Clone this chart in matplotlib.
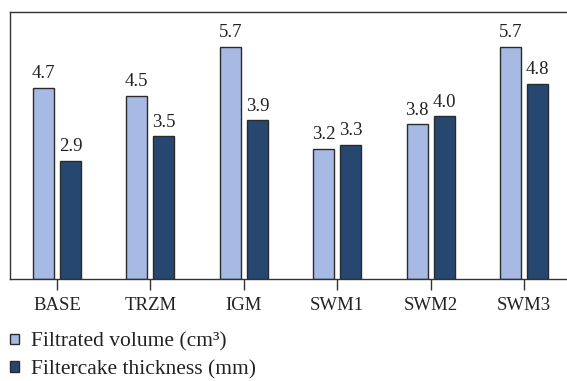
import numpy as np
import matplotlib
matplotlib.use("Agg")
import matplotlib.pyplot as plt

categories = ["BASE", "TRZM", "IGM", "SWM1", "SWM2", "SWM3"]
filtrated_volume = [4.7, 4.5, 5.7, 3.2, 3.8, 5.7]
filtercake_thickness = [2.9, 3.5, 3.9, 3.3, 4.0, 4.8]
series_labels = ["Filtrated volume (cm³)", "Filtercake thickness (mm)"]

light = "#a7bae3"
dark = "#26476f"
edge = "#2b2b2b"

plt.rcParams["font.family"] = ["Liberation Serif", "DejaVu Serif"]
plt.rcParams["font.size"] = 13.5

fig = plt.figure(figsize=(5.67, 3.81), dpi=100)
ax = fig.add_axes([0.0176, 0.268, 0.9824, 0.7005])

x = np.arange(len(categories))
w = 0.225
b1 = ax.bar(x - 0.145, filtrated_volume, w, color=light, edgecolor=edge, linewidth=1.0,
            label=series_labels[0])
b2 = ax.bar(x + 0.145, filtercake_thickness, w, color=dark, edgecolor=edge, linewidth=1.0,
            label=series_labels[1])
ax.bar_label(b1, labels=[f"{v:.1f}" for v in filtrated_volume], padding=4, color="#222222")
ax.bar_label(b2, labels=[f"{v:.1f}" for v in filtercake_thickness], padding=4, color="#222222")

ax.set_xlim(-0.503, 5.46)
ax.set_ylim(0, 6.56)
ax.set_xticks(x)
ax.set_xticklabels(categories)
ax.set_yticks([])
ax.tick_params(axis="x", direction="out", length=8, width=1.0, color="#333333",
               pad=5, labelcolor="#222222")
ax.spines["right"].set_visible(False)
for s in ["left", "top", "bottom"]:
    ax.spines[s].set_color("#333333")
    ax.spines[s].set_linewidth(1.0)

fig.legend(handles=[b1, b2], loc="upper left", bbox_to_anchor=(0.003, 0.15),
           frameon=False, handlelength=0.4, handleheight=0.4, handletextpad=0.55,
           labelspacing=0.4, borderaxespad=0, labelcolor="#222222", fontsize=15.5)

fig.savefig("out.png", dpi=100)
